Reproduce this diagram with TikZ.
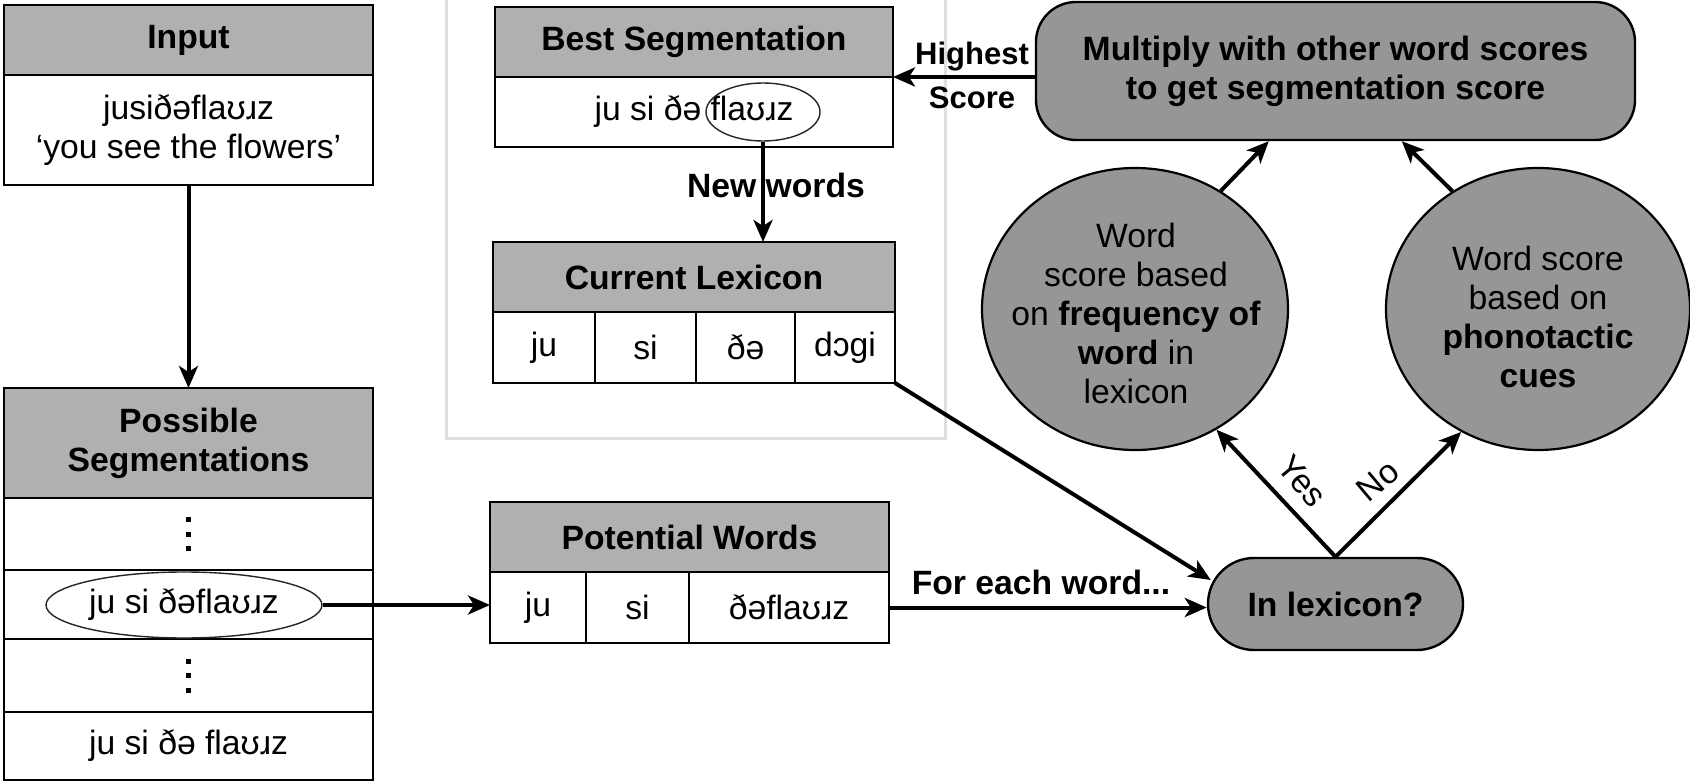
\documentclass[tikz,border=0pt]{standalone}
\usepackage{fontspec}
\setmainfont{Liberation Sans}
\usetikzlibrary{shapes.geometric,arrows.meta,calc}
\definecolor{hdrgray}{RGB}{176,176,176}
\definecolor{dkgray}{RGB}{150,150,150}
\definecolor{framegray}{RGB}{224,224,224}
\newcommand{\fs}{\fontsize{33.7pt}{39pt}\selectfont}
\newcommand{\fss}{\fontsize{31pt}{40pt}\selectfont}
\newcommand{\vdts}{\rule[-2.5pt]{5pt}{5pt}\llap{\rule[12pt]{5pt}{5pt}}\llap{\rule[-17pt]{5pt}{5pt}}}
\begin{document}
\begin{tikzpicture}[x=1pt,y=-1pt,
  box/.style={draw, line width=2.6pt, inner sep=0pt, outer sep=0pt, anchor=north west, align=center},
  hdr/.style={box, fill=hdrgray, font=\fs\bfseries},
  cell/.style={box, fill=white, font=\fs},
  hl/.style={draw=black!85, ellipse, line width=1.4pt, inner sep=0pt, font=\fs},
  bubble/.style={draw, ellipse, line width=2.2pt, fill=dkgray, inner sep=0pt},
  btext/.style={align=center, font=\fs, inner sep=0pt},
  rbox/.style={draw, line width=2.4pt, fill=dkgray, align=center, font=\fs\bfseries},
  arr/.style={line width=4pt, -{Stealth[length=22pt,width=19pt,inset=6pt]}},
  lbl/.style={font=\fs\bfseries, inner sep=0pt},
  lblr/.style={font=\fs, inner sep=0pt}
]
\useasboundingbox (0,0) rectangle (1690,783);
\draw[framegray, line width=3pt] (446,-10) rectangle (945,439);

% Input
\node[hdr, minimum width=369pt, minimum height=70pt] (inH) at (4,5) {Input};
\node[cell, minimum width=369pt, minimum height=110pt] (inB) at (inH.south west) {jusiðəflaʊɹz\\‘you see the flowers’};

% Possible segmentations
\node[hdr, minimum width=369pt, minimum height=110pt] (psH) at (4,388) {Possible\\Segmentations};
\node[cell, minimum width=369pt, minimum height=72pt] (ps1) at (psH.south west) {\vdts};
\node[cell, minimum width=369pt, minimum height=69pt] (ps2) at (ps1.south west) {};
\node[cell, minimum width=369pt, minimum height=73pt] (ps3) at (ps2.south west) {\vdts};
\node[cell, minimum width=369pt, minimum height=68pt] (ps4) at (ps3.south west) {ju si ðə flaʊɹz};
\node[hl, minimum width=276pt, minimum height=66pt] (ell1) at (184,605) {ju si ðəflaʊɹz};

% Potential words
\node[hdr, minimum width=399pt, minimum height=70pt] (pwH) at (490,502) {Potential Words};
\node[cell, minimum width=96pt, minimum height=71pt] (pw1) at (pwH.south west) {ju};
\node[cell, minimum width=103pt, minimum height=71pt] (pw2) at (pw1.north east) {si};
\node[cell, minimum width=200pt, minimum height=71pt] (pw3) at (pw2.north east) {ðəflaʊɹz};

% Best segmentation
\node[hdr, minimum width=398pt, minimum height=70pt] (bsH) at (495,7) {Best Segmentation};
\node[cell, minimum width=398pt, minimum height=70pt] (bsB) at (bsH.south west) {ju si ðə flaʊɹz};
\node[hl, minimum width=114pt, minimum height=58pt] (ell2) at (763,112) {};

% Current lexicon
\node[hdr, minimum width=402pt, minimum height=70pt] (clH) at (493,242) {Current Lexicon};
\node[cell, minimum width=102pt, minimum height=71pt] (cl1) at (clH.south west) {ju};
\node[cell, minimum width=101pt, minimum height=71pt] (cl2) at (cl1.north east) {si};
\node[cell, minimum width=99pt, minimum height=71pt] (cl3) at (cl2.north east) {ðə};
\node[cell, minimum width=100pt, minimum height=71pt] (cl4) at (cl3.north east) {dɔgi};

% Right side
\node[rbox, rounded corners=40pt, minimum width=599pt, minimum height=138pt] (mult) at (1335.5,71) {Multiply with other word scores\\to get segmentation score};
\node[rbox, rounded corners=46pt, minimum width=255pt, minimum height=92pt] (lex) at (1335.5,604) {In lexicon?};
\node[bubble, minimum width=306pt, minimum height=282pt] (lc) at (1135,309) {};
\node[btext] (lcT) at (1136,313) {Word\\score based\\on \textbf{frequency of}\\\textbf{word} in\\lexicon};
\node[bubble, minimum width=304pt, minimum height=282pt] (rc) at (1538,309) {};
\node[btext] (rcT) at (1538,317) {Word score\\based on\\\textbf{phonotactic}\\\textbf{cues}};

% Labels
\node[lbl, font=\fss\bfseries] (hi) at (972,57) {Highest};
\node[lbl, font=\fss\bfseries] (sc) at (972,98) {Score};
\node[lbl] (nw) at (776,185) {New words};
\node[lbl] (few) at (1041,582) {For each word...};
\node[lblr, rotate=-50] (yes) at (1302,481) {Yes};
\node[lblr, rotate=40] (no) at (1378,481) {No};

% Coordinates
\coordinate (lexIn) at ($(lex.west)+(4,-24)$);
\coordinate (m1) at ($(mult.south west)+(234,0)$);
\coordinate (m2) at ($(mult.south west)+(367,0)$);

% Arrows
\draw[arr] (inB.south) -- (psH.north);
\draw[arr] (ell1.east) -- (ell1.east -| pw1.west);
\draw[arr] (pw3.east) -- (pw3.east -| lex.west);
\draw[arr] (cl4.south east) -- (lexIn);
\draw[arr] (ell2.south) -- (ell2.south |- clH.north);
\draw[arr] (bsH.south east -| mult.west) -- (bsH.south east);
\draw[arr] (lex.north) -- (lc.-56);
\draw[arr] (lex.north) -- (rc.-122);
\draw[arr] (lc.54) -- (m1);
\draw[arr] (rc.126) -- (m2);
\end{tikzpicture}
\end{document}
